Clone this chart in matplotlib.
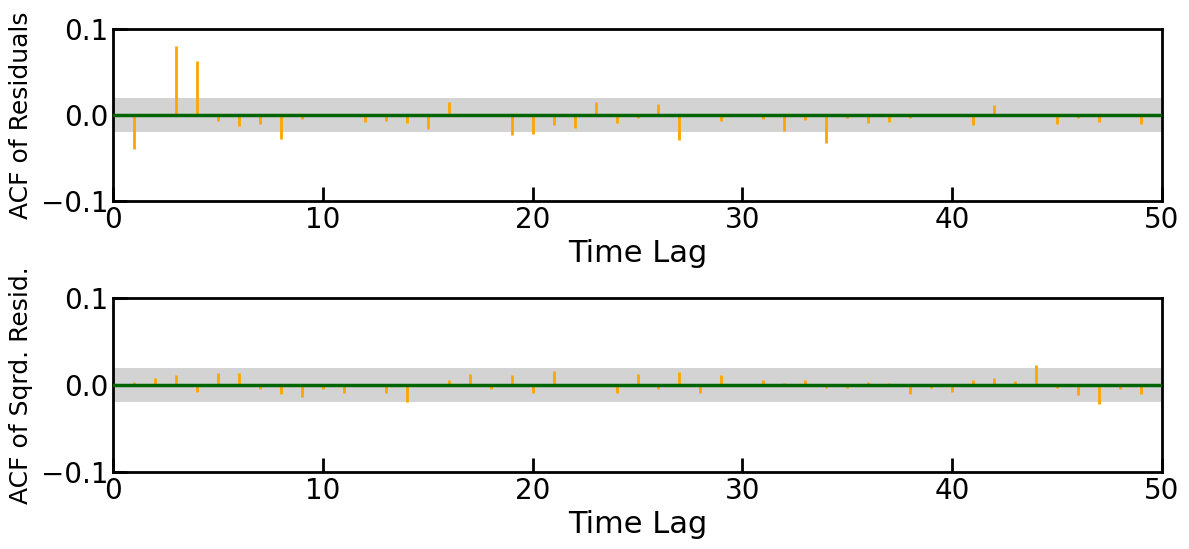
import numpy as np
import matplotlib
matplotlib.use("Agg")
import matplotlib.pyplot as plt

lags = list(range(1, 51))
acf_resid = [-0.039, 0.0, 0.080, 0.063, -0.007, -0.013, -0.0105, -0.028, -0.005, 0.0,
             0.0, -0.008, -0.007, -0.0097, -0.016, 0.0147, 0.0, 0.0, -0.023, -0.022,
             -0.012, -0.0155, 0.0147, -0.0097, -0.003, 0.0124, -0.0295, 0.0, -0.0074, 0.0,
             -0.005, -0.019, -0.006, -0.032, -0.004, -0.0097, -0.008, -0.003, 0.0, 0.0,
             -0.012, 0.0112, 0.0, 0.0, -0.011, -0.003, -0.008, 0.0, -0.010, 0.0]
acf_sq = [0.003, 0.0077, 0.011, -0.0085, 0.0134, 0.0134, -0.005, -0.0107, -0.014, -0.005,
          -0.0096, 0.0, -0.0096, -0.020, 0.0, 0.0054, 0.0123, -0.005, 0.011, -0.0096,
          0.0157, 0.0, 0.0, -0.0096, 0.0123, -0.005, 0.0146, -0.0096, 0.011, 0.0,
          0.0054, 0.002, 0.0054, -0.003, -0.004, 0.003, 0.002, -0.0107, -0.004, -0.0085,
          0.0054, 0.0077, 0.0042, 0.0226, -0.003, -0.012, -0.0222, -0.005, -0.0107, 0.0]
conf = 0.02
ylabels = ["ACF of Residuals", "ACF of Sqrd. Resid."]

fig = plt.figure(figsize=(11.89, 5.49), dpi=100)
ax1 = fig.add_axes([113/1189, 1-201/549, (1162-113)/1189, 172/549])
ax2 = fig.add_axes([113/1189, 1-472/549, (1162-113)/1189, 174/549])

for ax, vals, lab in zip([ax1, ax2], [acf_resid, acf_sq], ylabels):
    ax.axhspan(-conf, conf, color='lightgray', zorder=0, lw=0)
    ax.vlines(lags, 0, vals, color='orange', lw=2, zorder=2)
    ax.axhline(0, color='darkgreen', lw=2.5, zorder=3)
    ax.set_xlim(0, 50)
    ax.set_ylim(-0.1, 0.1)
    ax.set_xticks([0, 10, 20, 30, 40, 50])
    ax.set_yticks([-0.1, 0.0, 0.1])
    ax.tick_params(direction='in', length=10, width=2, labelsize=20)
    for s in ax.spines.values():
        s.set_linewidth(2)
    ax.set_xlabel("Time Lag", fontsize=22, labelpad=4)
    ax.set_ylabel(lab, fontsize=18)
    ax.yaxis.set_label_coords(-0.076, 0.5)

fig.savefig("out.png", dpi=100)
